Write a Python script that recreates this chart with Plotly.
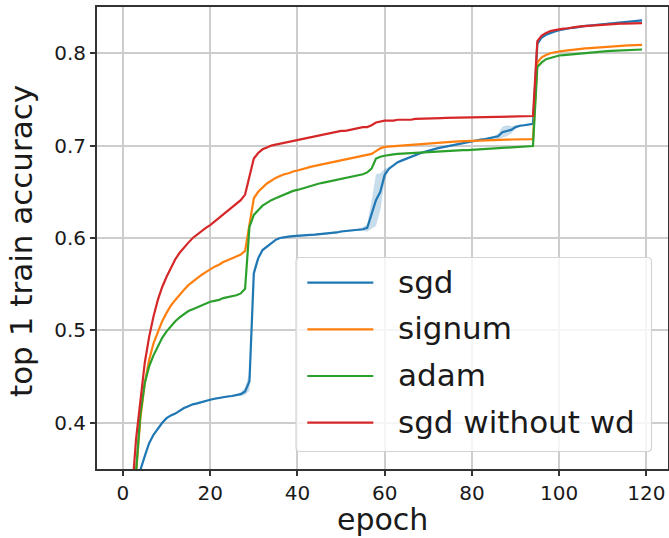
import plotly.graph_objects as go

epochs = list(range(120))

sgd = [0.05, 0.15, 0.24, 0.30, 0.349, 0.364, 0.378, 0.387, 0.394, 0.400,
       0.405, 0.408, 0.410, 0.413, 0.416, 0.418, 0.420, 0.421, 0.4225, 0.424,
       0.425, 0.426, 0.427, 0.428, 0.4285, 0.429, 0.430, 0.431, 0.434, 0.445,
       0.562, 0.578, 0.587, 0.591, 0.595, 0.598, 0.600, 0.601, 0.6015, 0.602,
       0.6025, 0.6028, 0.603, 0.6033, 0.6036, 0.604, 0.6045, 0.605, 0.6055, 0.606,
       0.607, 0.6075, 0.608, 0.6085, 0.609, 0.6095, 0.611, 0.625, 0.641, 0.650,
       0.6686, 0.675, 0.679, 0.682, 0.684, 0.686, 0.688, 0.690, 0.6915, 0.693,
       0.694, 0.6957, 0.697, 0.698, 0.699, 0.700, 0.701, 0.702, 0.703, 0.704,
       0.705, 0.706, 0.7065, 0.707, 0.708, 0.709, 0.710, 0.7145, 0.716, 0.717,
       0.720, 0.7215, 0.722, 0.723, 0.7235, 0.810, 0.817, 0.820, 0.822, 0.8235,
       0.825, 0.826, 0.827, 0.8275, 0.828, 0.829, 0.8295, 0.830, 0.8305, 0.831,
       0.8315, 0.832, 0.8325, 0.833, 0.8333, 0.8337, 0.834, 0.8345, 0.835, 0.8355]

sgd_std = [0.001] * 27 + [0.002, 0.004, 0.010, 0.006, 0.003] + [0.001] * 23 + \
          [0.002, 0.004, 0.015, 0.028, 0.020, 0.006, 0.002] + [0.001] * 24 + \
          [0.003, 0.006, 0.006, 0.004, 0.002] + [0.001] * 29

signum = [0.08, 0.20, 0.28, 0.345, 0.405, 0.443, 0.468, 0.486, 0.499, 0.510,
          0.519, 0.527, 0.533, 0.539, 0.544, 0.549, 0.553, 0.557, 0.560, 0.563,
          0.566, 0.569, 0.571, 0.574, 0.576, 0.578, 0.580, 0.582, 0.586, 0.615,
          0.643, 0.650, 0.655, 0.659, 0.662, 0.665, 0.667, 0.669, 0.670, 0.672,
          0.673, 0.6745, 0.676, 0.677, 0.678, 0.679, 0.680, 0.681, 0.682, 0.683,
          0.684, 0.685, 0.686, 0.687, 0.688, 0.689, 0.690, 0.691, 0.694, 0.697,
          0.6986, 0.699, 0.6995, 0.700, 0.7003, 0.7006, 0.701, 0.7014, 0.7018, 0.7022,
          0.7026, 0.703, 0.7033, 0.7036, 0.704, 0.7042, 0.7044, 0.7046, 0.7047, 0.7048,
          0.705, 0.7052, 0.7054, 0.7056, 0.7058, 0.706, 0.706, 0.7062, 0.7064, 0.7066,
          0.7067, 0.7068, 0.7069, 0.707, 0.707, 0.790, 0.7955, 0.798, 0.800, 0.801,
          0.802, 0.8025, 0.803, 0.8037, 0.8043, 0.8048, 0.8052, 0.8056, 0.806, 0.8065,
          0.807, 0.8073, 0.8076, 0.8079, 0.8081, 0.8083, 0.8085, 0.8087, 0.8089, 0.809]

adam = [0.08, 0.20, 0.29, 0.347, 0.410, 0.443, 0.461, 0.473, 0.483, 0.492,
        0.499, 0.505, 0.510, 0.514, 0.518, 0.521, 0.523, 0.525, 0.527, 0.529,
        0.531, 0.532, 0.533, 0.535, 0.536, 0.537, 0.538, 0.540, 0.545, 0.612,
        0.625, 0.630, 0.635, 0.638, 0.641, 0.643, 0.645, 0.647, 0.649, 0.651,
        0.652, 0.6535, 0.655, 0.6565, 0.658, 0.659, 0.660, 0.661, 0.662, 0.663,
        0.664, 0.665, 0.666, 0.667, 0.668, 0.669, 0.671, 0.675, 0.686, 0.688,
        0.689, 0.690, 0.6905, 0.691, 0.6913, 0.6916, 0.692, 0.6923, 0.6926, 0.693,
        0.6933, 0.6935, 0.6938, 0.694, 0.6942, 0.6944, 0.6946, 0.6948, 0.695, 0.6952,
        0.6955, 0.6958, 0.696, 0.6963, 0.6966, 0.6968, 0.697, 0.6973, 0.6976, 0.698,
        0.6982, 0.6985, 0.6988, 0.699, 0.6995, 0.785, 0.790, 0.7935, 0.795, 0.7965,
        0.7975, 0.798, 0.7985, 0.799, 0.7995, 0.800, 0.8004, 0.8008, 0.8012, 0.8016,
        0.802, 0.8022, 0.8025, 0.8028, 0.803, 0.8032, 0.8034, 0.8036, 0.8038, 0.804]

sgd_no_wd = [0.10, 0.22, 0.32, 0.382, 0.425, 0.465, 0.493, 0.515, 0.533, 0.547,
             0.558, 0.568, 0.577, 0.584, 0.590, 0.595, 0.600, 0.604, 0.608, 0.611,
             0.614, 0.618, 0.622, 0.626, 0.630, 0.634, 0.637, 0.641, 0.647, 0.665,
             0.686, 0.692, 0.696, 0.698, 0.700, 0.701, 0.702, 0.703, 0.704, 0.705,
             0.706, 0.707, 0.708, 0.709, 0.710, 0.711, 0.712, 0.713, 0.714, 0.715,
             0.716, 0.716, 0.717, 0.718, 0.719, 0.720, 0.720, 0.722, 0.725, 0.726,
             0.727, 0.727, 0.727, 0.728, 0.728, 0.728, 0.728, 0.729, 0.729, 0.729,
             0.7295, 0.7296, 0.7297, 0.7298, 0.7299, 0.730, 0.730, 0.730, 0.7301, 0.7301,
             0.7302, 0.7303, 0.7304, 0.7305, 0.7306, 0.7308, 0.731, 0.7311, 0.7312, 0.7313,
             0.7315, 0.7316, 0.7317, 0.732, 0.732, 0.813, 0.819, 0.822, 0.824, 0.825,
             0.826, 0.8266, 0.827, 0.828, 0.8285, 0.829, 0.8294, 0.830, 0.8303, 0.8306,
             0.831, 0.8312, 0.8315, 0.8317, 0.832, 0.832, 0.8322, 0.8323, 0.8324, 0.8325]

series_names = ["sgd", "signum", "adam", "sgd without wd"]
series_values = [sgd, signum, adam, sgd_no_wd]
colors = ["#1f77b4", "#ff7f0e", "#2ca02c", "#d62728"]

x_ticks = [0, 20, 40, 60, 80, 100, 120]
y_ticks = [0.4, 0.5, 0.6, 0.7, 0.8]
x_title = "epoch"
y_title = "top 1 train accuracy"

FONT = "DejaVu Sans"
TXT = "#1a1a1a"

fig = go.Figure()

# shaded band for sgd
sgd_hi = [v + s for v, s in zip(sgd, sgd_std)]
sgd_lo = [v - s for v, s in zip(sgd, sgd_std)]
fig.add_trace(go.Scatter(x=epochs, y=sgd_hi, mode="lines", line=dict(width=0),
                         showlegend=False, hoverinfo="skip"))
fig.add_trace(go.Scatter(x=epochs, y=sgd_lo, mode="lines", line=dict(width=0),
                         fill="tonexty", fillcolor="rgba(31,119,180,0.25)",
                         showlegend=False, hoverinfo="skip"))

for name, vals, col in zip(series_names, series_values, colors):
    fig.add_trace(go.Scatter(x=epochs, y=vals, mode="lines", name=name,
                             line=dict(color=col, width=2.2), showlegend=False))

W, H = 669, 538
L, R, T, B = 97, 1, 7, 69
pw, ph = W - L - R, H - T - B

def px(x):
    return (x - L) / pw

def py(y):
    return (H - B - y) / ph

# manual legend (matplotlib-like)
bx0, bx1, by0, by1 = px(296), px(651.5), py(451.5), py(257.5)
rx, ry = 4 / pw, 4 / ph
path = (f"M{bx0+rx},{by1} L{bx1-rx},{by1} Q{bx1},{by1} {bx1},{by1-ry} "
        f"L{bx1},{by0+ry} Q{bx1},{by0} {bx1-rx},{by0} L{bx0+rx},{by0} "
        f"Q{bx0},{by0} {bx0},{by0+ry} L{bx0},{by1-ry} Q{bx0},{by1} {bx0+rx},{by1} Z")
shapes = [dict(type="path", path=path, xref="paper", yref="paper",
               fillcolor="rgba(255,255,255,0.8)", line=dict(color="#d4d4d4", width=1.2),
               layer="above")]
annotations = []
row_y = [282.7, 329.3, 376.0, 422.7]
for name, col, ry_ in zip(series_names, colors, row_y):
    shapes.append(dict(type="line", xref="paper", yref="paper",
                       x0=px(307.3), x1=px(373.3), y0=py(ry_), y1=py(ry_),
                       line=dict(color=col, width=2.2), layer="above"))
    annotations.append(dict(text=name, xref="paper", yref="paper",
                            x=px(396), y=py(ry_ - 1), xanchor="left", yanchor="middle",
                            showarrow=False, font=dict(family=FONT, size=31, color=TXT)))

# axis titles
annotations.append(dict(text=x_title, xref="paper", yref="paper", x=0.5, y=py(538),
                        xanchor="center", yanchor="bottom", showarrow=False, borderpad=0,
                        font=dict(family=FONT, size=30, color=TXT)))
annotations.append(dict(text=y_title, xref="paper", yref="paper", x=px(21), y=py(241),
                        xanchor="center", yanchor="middle", textangle=-90, showarrow=False,
                        font=dict(family=FONT, size=31, color=TXT)))

fig.update_layout(
    width=W, height=H,
    margin=dict(l=L, r=R, t=T, b=B, pad=0, autoexpand=False),
    paper_bgcolor="white", plot_bgcolor="white",
    shapes=shapes, annotations=annotations,
    showlegend=False,
)
axis_common = dict(showgrid=True, gridcolor="#cdcdcd", gridwidth=1.5,
                   showline=True, mirror=True, linecolor="#333333", linewidth=1.8,
                   ticks="outside", ticklen=5, tickwidth=1.5, tickcolor="#333333",
                   zeroline=False, automargin=False,
                   tickfont=dict(family=FONT, size=20, color=TXT))
fig.update_xaxes(range=[-5.95, 124.95], tickvals=x_ticks, **axis_common)
fig.update_yaxes(range=[0.35, 0.85], tickvals=y_ticks, tickformat=".1f", **axis_common)

fig.write_html("out.html", config={"displayModeBar": False},
               post_script="document.body.style.margin='0';document.body.style.overflow='hidden';")
